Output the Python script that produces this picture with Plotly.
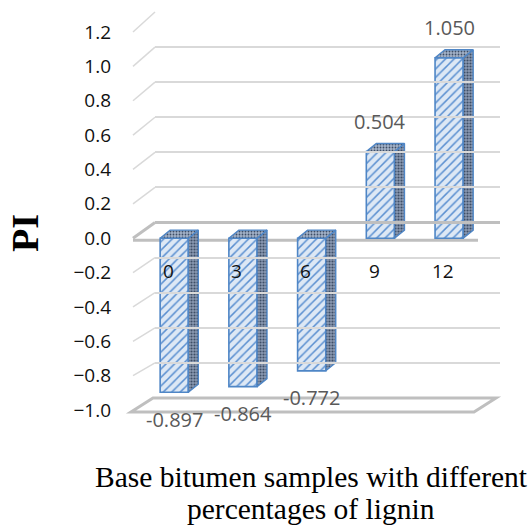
import plotly.graph_objects as go

# ---- data ----
categories = ["0", "3", "6", "9", "12"]
pi_values = [-0.897, -0.864, -0.772, 0.504, 1.050]
y_ticks = [-1.0, -0.8, -0.6, -0.4, -0.2, 0.0, 0.2, 0.4, 0.6, 0.8, 1.0, 1.2]
y_title = "PI"
x_title_lines = ["Base bitumen samples with different", "percentages of lignin"]

# ---- layout geometry (pixels) ----
W, H = 530, 526
FX0, FX1 = 133, 478          # front plane x extent
FY_TOP, FY_BOT = 32, 410     # front plane y of 1.2 / -1.0
BX0, BX1 = 155, 500          # back wall x extent
BY_TOP, BY_BOT = 12, 398     # back wall y of 1.2 / -1.0
YMIN, YMAX = -1.0, 1.2
XMIN, XMAX = -0.6, 4.42
BAR_W = 0.41
DX, DY = 0.145, 0.047        # depth of 3D bar (data units)

def px(x):
    return x / W

def py(y):
    return 1 - y / H

def fy(t):
    return FY_BOT - (t - YMIN) * (FY_BOT - FY_TOP) / (YMAX - YMIN)

def by(t):
    return BY_BOT - (t - YMIN) * (BY_BOT - BY_TOP) / (YMAX - YMIN)

EDGE = "#4f86c6"
FRONT_BG = "#dde8f5"
SIDE_BG = "#8a9ab3"
SIDE_FG = "#3e4e66"
TOP_BG = "#a3b2c8"

fig = go.Figure()

# invisible trace to activate back-wall axes
fig.add_trace(go.Scatter(x=[0], y=[0], xaxis="x2", yaxis="y2", mode="markers",
                         marker=dict(opacity=0), hoverinfo="skip", showlegend=False))

xs = list(range(len(categories)))

# front faces
fig.add_trace(go.Bar(
    x=xs, y=pi_values, width=BAR_W,
    marker=dict(color=FRONT_BG,
                line=dict(color=EDGE, width=1.6),
                pattern=dict(shape="/", fgcolor="#5a8fd0", bgcolor=FRONT_BG,
                             size=6, solidity=0.25)),
    showlegend=False, hoverinfo="skip"))

# side and top faces
for x, v in zip(xs, pi_values):
    xl, xr = x - BAR_W / 2, x + BAR_W / 2
    side_x = [xr, xr + DX, xr + DX, xr, xr]
    side_y = [0, DY, v + DY, v, 0]
    fig.add_trace(go.Scatter(
        x=side_x, y=side_y, mode="lines", fill="toself",
        fillcolor=SIDE_BG,
        fillpattern=dict(shape=".", fgcolor=SIDE_FG, bgcolor=SIDE_BG, size=3, solidity=0.4),
        line=dict(color=EDGE, width=1.4),
        showlegend=False, hoverinfo="skip"))
    top = max(v, 0)
    top_x = [xl, xl + DX, xr + DX, xr, xl]
    top_y = [top, top + DY, top + DY, top, top]
    fig.add_trace(go.Scatter(
        x=top_x, y=top_y, mode="lines", fill="toself",
        fillcolor=TOP_BG,
        fillpattern=dict(shape=".", fgcolor=SIDE_FG, bgcolor=TOP_BG, size=3, solidity=0.3),
        line=dict(color=EDGE, width=1.4),
        showlegend=False, hoverinfo="skip"))

shapes = []
GRID = "#d9d9d9"
FLOOR = "#bfbfbf"
# slanted side-wall gridlines
for t in y_ticks:
    if abs(t - YMIN) < 1e-9:
        continue
    thick = abs(t) < 1e-9
    shapes.append(dict(type="line", xref="paper", yref="paper", layer="below",
                       x0=px(FX0), y0=py(fy(t)), x1=px(BX0), y1=py(by(t)),
                       line=dict(color=FLOOR if thick else GRID, width=3 if thick else 1.5)))
# front edge of the zero plane
shapes.append(dict(type="line", xref="paper", yref="paper", layer="below",
                   x0=px(FX0), y0=py(fy(0) + 2), x1=px(FX1), y1=py(fy(0) + 2),
                   line=dict(color=FLOOR, width=3)))
# floor slab at -1.0
path = "M {},{} L {},{} L {},{} L {},{} Z".format(
    px(FX0 - 2), py(fy(YMIN) + 2), px(FX1 - 4), py(fy(YMIN) + 2),
    px(BX1 - 4), py(by(YMIN)), px(BX0 - 2), py(by(YMIN)))
shapes.append(dict(type="path", xref="paper", yref="paper", layer="below", path=path,
                   line=dict(color=FLOOR, width=3)))

annotations = []
# data labels
for x, v in zip(xs, pi_values):
    annotations.append(dict(x=x, y=v, xref="x", yref="y", text=f"{v:.3f}",
                            showarrow=False, yshift=30 if v > 0 else -27,
                            xanchor="center", yanchor="middle",
                            font=dict(family="Open Sans", size=20, color="#595959")))
# category labels
for x, c in zip(xs, categories):
    annotations.append(dict(x=x, y=0, xref="x", yref="y", text=c, showarrow=False,
                            xshift=-6, yshift=-33, xanchor="center", yanchor="middle",
                            font=dict(family="Open Sans", size=19, color="#111111")))
# axis titles
annotations.append(dict(x=px(25), y=py(233), xref="paper", yref="paper", text=f"<b>{y_title}</b>",
                        textangle=-90, showarrow=False, xanchor="center", yanchor="middle",
                        font=dict(family="Liberation Serif", size=38, color="black")))
for i, line in enumerate(x_title_lines):
    annotations.append(dict(x=px(311), y=py(477 + 32 * i), xref="paper", yref="paper",
                            text=line, showarrow=False, xanchor="center", yanchor="middle",
                            font=dict(family="Liberation Serif", size=29.5, color="black")))

fig.update_layout(
    template="none",
    width=W, height=H, autosize=False,
    margin=dict(l=0, r=0, t=0, b=0, pad=0),
    paper_bgcolor="white", plot_bgcolor="rgba(0,0,0,0)",
    xaxis=dict(domain=[px(FX0), px(FX1)], range=[XMIN, XMAX], showgrid=False,
               zeroline=False, showticklabels=False, showline=False, fixedrange=True,
               automargin=False),
    yaxis=dict(domain=[py(FY_BOT), py(FY_TOP)], range=[YMIN, YMAX], tickvals=y_ticks,
               tickformat=".1f", showgrid=False, zeroline=False, ticks="",
               ticklabelstandoff=21, showline=False, automargin=False,
               tickfont=dict(family="Open Sans", size=19, color="#111111")),
    xaxis2=dict(domain=[px(BX0), px(BX1)], range=[0, 1], anchor="y2", showgrid=False,
                zeroline=False, showticklabels=False, showline=False, automargin=False),
    yaxis2=dict(domain=[py(BY_BOT), py(BY_TOP)], range=[YMIN, YMAX], anchor="x2",
                tickvals=y_ticks, showticklabels=False, showgrid=True, gridcolor=GRID,
                gridwidth=1.5, zeroline=True, zerolinecolor=FLOOR, zerolinewidth=3,
                ticks="", automargin=False),
    shapes=shapes,
    annotations=annotations,
    showlegend=False,
)

fig.write_html("out.html")
